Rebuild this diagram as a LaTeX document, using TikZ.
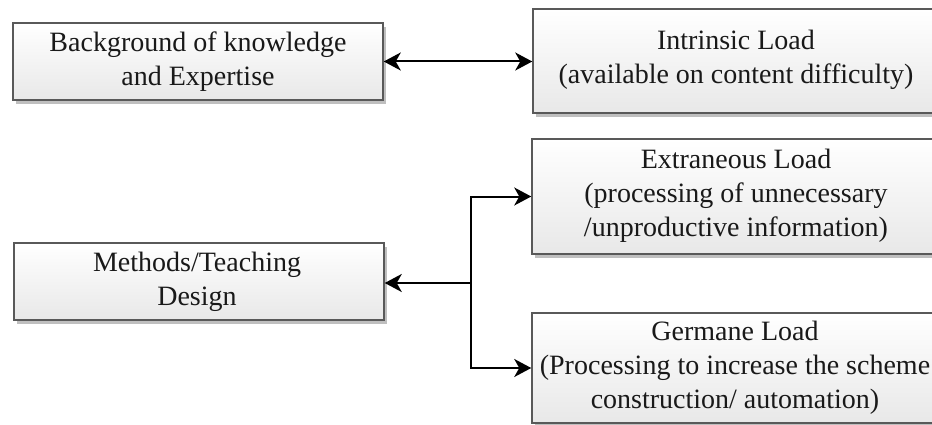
\documentclass[tikz,border=0pt]{standalone}
\usepackage{fontspec}
\setmainfont{Liberation Serif}
\usetikzlibrary{arrows.meta,shadows}

\tikzset{
  loadbox/.style={
    rectangle, draw=black!65, line width=1.5pt,
    top color=white, bottom color=black!9,
    drop shadow={shadow xshift=3pt, shadow yshift=-4pt, fill=black!45, opacity=0.55},
    inner sep=0pt
  },
  label text/.style={
    align=center, inner sep=0pt, text=black!90,
    font=\fontsize{28}{34}\selectfont
  },
  link/.style={
    line width=2pt, draw=black,
    arrows={-Stealth[length=17pt, width=18pt, inset=5pt]}
  },
  biglink/.style={
    line width=2pt, draw=black,
    arrows={Stealth[length=17pt, width=18pt, inset=5pt]-Stealth[length=17pt, width=18pt, inset=5pt]}
  }
}

\begin{document}
\begin{tikzpicture}[x=1pt, y=-1pt]
  \useasboundingbox (0,0) rectangle (932,425);
  \fill[white] (0,0) rectangle (932,425);
  \clip (0,0) rectangle (932,425);

  % boxes
  \node[loadbox, minimum width=370pt, minimum height=77pt]  (know) at (198,61.5)   {};
  \node[loadbox, minimum width=407pt, minimum height=104pt] (intr) at (736.5,61)   {};
  \node[loadbox, minimum width=408pt, minimum height=115pt] (extr) at (736,196.5)  {};
  \node[loadbox, minimum width=408pt, minimum height=110pt] (germ) at (736,368)    {};
  \node[loadbox, minimum width=370pt, minimum height=77pt]  (meth) at (199,281.5)  {};

  % box texts
  \node[label text] (knowT) at (198,61.5) {Background of knowledge\\and Expertise};
  \node[label text] (intrT) at (736,60) {Intrinsic Load\\(available on content difficulty)};
  \node[label text] (extrT) at (736,196) {Extraneous Load\\(processing of unnecessary\\/unproductive information)};
  \node[label text] (germT) at (735,368) {Germane Load\\(Processing to increase the scheme\\construction/ automation)};
  \node[label text] (methT) at (197,281.5) {Methods/Teaching\\Design};

  % connectors
  \draw[biglink] (know.east) -- (know.east -| intr.west);
  \coordinate (split) at (471,283);
  \draw[link] (split) -- (split -| meth.east);
  \draw[link] (split) |- (extr.west);
  \draw[link] (split) |- (germ.west);
\end{tikzpicture}
\end{document}
